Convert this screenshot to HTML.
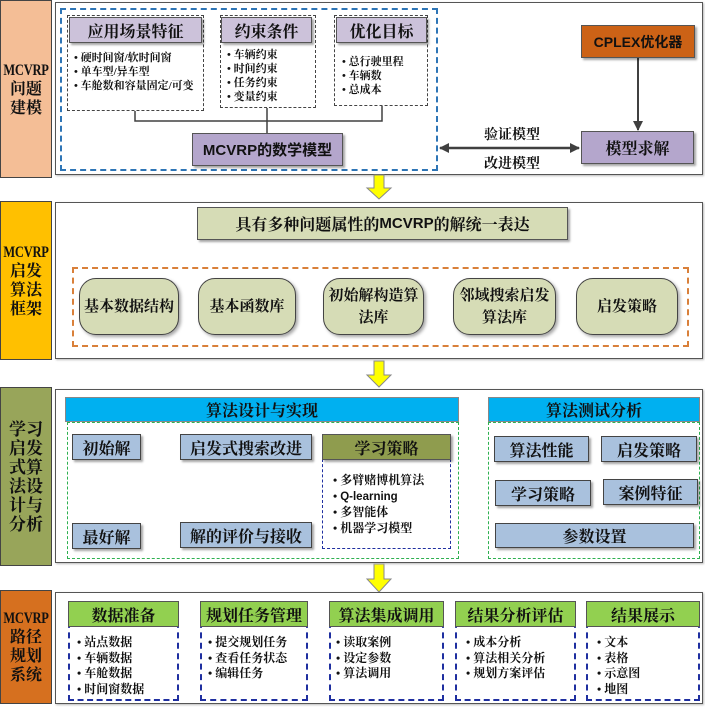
<!DOCTYPE html>
<html><head><meta charset="utf-8">
<style>
*{margin:0;padding:0;box-sizing:border-box}
body{width:705px;height:707px;background:#fff;position:relative;overflow:hidden;font-family:"Liberation Serif","Noto Serif CJK SC",serif;color:#111;font-weight:bold}
.a{position:absolute}
.c{display:flex;align-items:center;justify-content:center;text-align:center}
.left{border:1px solid #444;font-weight:bold;font-size:16px;line-height:19px;flex-direction:column}
.mc{display:inline-block;font-family:"Liberation Serif",serif;font-weight:bold;font-size:16px;transform:scaleX(0.78);letter-spacing:-0.3px}
.outer{border:1px solid #555;box-shadow:1px 1px 2px #bbb;background:#fff}
.hdr{border:1px solid #555;box-shadow:2px 2px 2px rgba(0,0,0,.35);font-size:16px}
.bl{font-size:11px;font-weight:bold;line-height:14px;white-space:nowrap}
.bl2{font-size:12px;font-weight:bold;line-height:15.5px;white-space:nowrap}
.sans{font-family:"Liberation Sans","Noto Sans CJK SC",sans-serif;font-weight:bold}
.rb{border:1.5px solid #444;border-radius:17px;background:#D6DCB6;box-shadow:2px 2px 3px rgba(0,0,0,.35);font-size:15px;line-height:22px}
.blue{background:#A9C1DD;border:1.5px solid #444;box-shadow:2px 2px 2px rgba(0,0,0,.35);font-size:16px}
.g{background:#92D050}
</style></head><body>

<!-- Section 1 -->
<div class="a c left" style="left:0;top:0;width:52px;height:178px;background:#F4BE96"><span class="mc">MCVRP</span><span>问题</span><span>建模</span></div>
<div class="a outer" style="left:55px;top:2px;width:648px;height:173px"></div>
<div class="a" style="left:60px;top:8px;width:378px;height:163px;border:2px dashed #2E75B6"></div>

<div class="a" style="left:67px;top:15px;width:137px;height:96px;border:1.5px dashed #444"></div>
<div class="a c hdr" style="left:69px;top:17px;width:133px;height:26px;background:#CCC2DA">应用场景特征</div>
<div class="a bl" style="left:74px;top:51px">• 硬时间窗/软时间窗<br>• 单车型/异车型<br>• 车舱数和容量固定/可变</div>

<div class="a" style="left:220px;top:15px;width:96px;height:93px;border:1.5px dashed #444"></div>
<div class="a c hdr" style="left:221px;top:17px;width:91px;height:26px;background:#CCC2DA">约束条件</div>
<div class="a bl" style="left:227px;top:48px">• 车辆约束<br>• 时间约束<br>• 任务约束<br>• 变量约束</div>

<div class="a" style="left:334px;top:15px;width:94px;height:91px;border:1.5px dashed #444"></div>
<div class="a c hdr" style="left:336px;top:17px;width:91px;height:26px;background:#CCC2DA">优化目标</div>
<div class="a bl" style="left:342px;top:55px">• 总行驶里程<br>• 车辆数<br>• 总成本</div>

<svg class="a" style="left:0;top:0" width="705" height="707">
<defs>
<marker id="ah2" markerWidth="10" markerHeight="10" refX="9" refY="5" orient="auto-start-reverse" markerUnits="userSpaceOnUse"><path d="M0,0 L10,5 L0,10 z" fill="#404040"/></marker>
</defs>
<g stroke="#404040" stroke-width="1.5" fill="none">
<polyline points="135,111 135,121 382,121 382,106"/>
<line x1="267" y1="108" x2="267" y2="133"/>
<line x1="638" y1="58" x2="638" y2="130" stroke-width="2" marker-end="url(#ah2)"/>
<line x1="440" y1="148" x2="579" y2="148" stroke-width="2.5" marker-start="url(#ah2)" marker-end="url(#ah2)"/>
<line x1="382" y1="240" x2="382" y2="261" stroke-width="2" marker-end="url(#ah2)"/>
<line x1="141" y1="447" x2="179" y2="447" stroke-width="2" marker-end="url(#ah2)"/>
<line x1="246" y1="460" x2="246" y2="521" stroke-width="2" marker-end="url(#ah2)"/>
<line x1="180" y1="535" x2="142" y2="535" stroke-width="2.5" marker-end="url(#ah2)"/>
<line x1="460" y1="498" x2="486" y2="498" stroke-width="3" marker-start="url(#ah2)" marker-end="url(#ah2)"/>
</g>
<g fill="#FFFF00" stroke="#888" stroke-width="1">
<polygon points="374,175 384,175 384,188 391,188 379,199 367,188 374,188"/>
<polygon points="374,361 384,361 384,375 391,375 379,387 367,375 374,375"/>
<polygon points="374,564 384,564 384,579 391,579 379,592 367,579 374,579"/>
</g>
</svg>

<div class="a c sans" style="left:192px;top:133px;width:151px;height:33px;background:#B4A6CC;border:1px solid #555;box-shadow:2px 2px 2px rgba(0,0,0,.35);font-size:15px">MCVRP的数学模型</div>
<div class="a c sans" style="left:581px;top:25px;width:114px;height:33px;background:#CC6216;border:1px solid #555;box-shadow:2px 2px 2px rgba(0,0,0,.35);font-size:14px">CPLEX优化器</div>
<div class="a c" style="left:581px;top:131px;width:113px;height:33px;background:#B4A6CC;border:1px solid #555;box-shadow:2px 2px 2px rgba(0,0,0,.35);font-size:16px">模型求解</div>
<div class="a" style="left:484px;top:124px;font-size:14px">验证模型</div>
<div class="a" style="left:484px;top:153px;font-size:14px">改进模型</div>

<!-- Section 2 -->
<div class="a c left" style="left:0;top:201px;width:52px;height:159px;background:#FFC000"><span class="mc">MCVRP</span><span>启发</span><span>算法</span><span>框架</span></div>
<div class="a outer" style="left:55px;top:202px;width:648px;height:157px"></div>
<div class="a c" style="left:197px;top:207px;width:371px;height:33px;background:#D6DCB6;border:1px solid #555;box-shadow:2px 2px 2px rgba(0,0,0,.35);font-size:16px;white-space:nowrap">具有多种问题属性的<span class="sans" style="font-size:15px">MCVRP</span>的解统一表达</div>
<div class="a" style="left:72px;top:267px;width:617px;height:80px;border:2px dashed #D9803A"></div>
<div class="a c rb" style="left:79px;top:278px;width:100px;height:57px">基本数据结构</div>
<div class="a c rb" style="left:198px;top:278px;width:98px;height:57px">基本函数库</div>
<div class="a c rb" style="left:323px;top:278px;width:101px;height:57px">初始解构造算<br>法库</div>
<div class="a c rb" style="left:453px;top:278px;width:103px;height:57px">邻域搜索启发<br>算法库</div>
<div class="a c rb" style="left:576px;top:278px;width:102px;height:57px">启发策略</div>

<!-- Section 3 -->
<div class="a c left" style="left:0;top:387px;width:52px;height:179px;background:#98A55A;font-size:17px"><span>学习</span><span>启发</span><span>式算</span><span>法设</span><span>计与</span><span>分析</span></div>
<div class="a outer" style="left:55px;top:389px;width:648px;height:174px"></div>
<div class="a" style="left:67px;top:422px;width:392px;height:137px;border:1.5px dashed #2EB050"></div>
<div class="a c" style="left:65px;top:397px;width:394px;height:25px;background:#00B0F0;border:1px solid #888;font-size:16px">算法设计与实现</div>
<div class="a c blue" style="left:72px;top:434px;width:69px;height:26px">初始解</div>
<div class="a c blue" style="left:180px;top:434px;width:132px;height:26px">启发式搜索改进</div>
<div class="a c blue" style="left:180px;top:522px;width:132px;height:26px">解的评价与接收</div>
<div class="a c blue" style="left:72px;top:523px;width:69px;height:26px">最好解</div>
<div class="a" style="left:322px;top:459px;width:129px;height:90px;border:1.5px dashed #1F2FA0"></div>
<div class="a c hdr" style="left:322px;top:434px;width:129px;height:26px;background:#8F9C4E">学习策略</div>
<div class="a bl2" style="left:333px;top:473px">• 多臂赌博机算法<br>• <span style="font-family:'Liberation Sans',sans-serif;font-weight:bold;font-size:11.5px">Q-learning</span><br>• 多智能体<br>• 机器学习模型</div>

<div class="a" style="left:488px;top:422px;width:212px;height:137px;border:1.5px dashed #2EB050"></div>
<div class="a c" style="left:488px;top:397px;width:212px;height:25px;background:#00B0F0;border:1px solid #888;font-size:16px">算法测试分析</div>
<div class="a c blue" style="left:494px;top:436px;width:95px;height:26px">算法性能</div>
<div class="a c blue" style="left:601px;top:436px;width:96px;height:26px">启发策略</div>
<div class="a c blue" style="left:495px;top:480px;width:96px;height:26px">学习策略</div>
<div class="a c blue" style="left:603px;top:479px;width:95px;height:26px">案例特征</div>
<div class="a c blue" style="left:495px;top:523px;width:199px;height:25px">参数设置</div>

<!-- Section 4 -->
<div class="a c left" style="left:0;top:590px;width:52px;height:114px;background:#D6701F"><span class="mc">MCVRP</span><span>路径</span><span>规划</span><span>系统</span></div>
<div class="a outer" style="left:55px;top:592px;width:648px;height:112px"></div>

<div class="a" style="left:68px;top:601px;width:111px;height:100px;border:2px dashed #1F2FA0"></div>
<div class="a c g" style="left:68px;top:601px;width:111px;height:26px;border:1px solid #555;font-size:16px">数据准备</div>
<div class="a bl2" style="left:77px;top:635px">• 站点数据<br>• 车辆数据<br>• 车舱数据<br>• 时间窗数据</div>

<div class="a" style="left:200px;top:601px;width:108px;height:100px;border:2px dashed #1F2FA0"></div>
<div class="a c g" style="left:200px;top:601px;width:108px;height:26px;border:1px solid #555;font-size:16px">规划任务管理</div>
<div class="a bl2" style="left:208px;top:635px">• 提交规划任务<br>• 查看任务状态<br>• 编辑任务</div>

<div class="a" style="left:329px;top:601px;width:115px;height:100px;border:2px dashed #1F2FA0"></div>
<div class="a c g" style="left:329px;top:601px;width:115px;height:26px;border:1px solid #555;font-size:16px">算法集成调用</div>
<div class="a bl2" style="left:336px;top:635px">• 读取案例<br>• 设定参数<br>• 算法调用</div>

<div class="a" style="left:455px;top:601px;width:121px;height:100px;border:2px dashed #1F2FA0"></div>
<div class="a c g" style="left:455px;top:601px;width:121px;height:26px;border:1px solid #555;font-size:16px">结果分析评估</div>
<div class="a bl2" style="left:466px;top:635px">• 成本分析<br>• 算法相关分析<br>• 规划方案评估</div>

<div class="a" style="left:586px;top:601px;width:114px;height:100px;border:2px dashed #1F2FA0"></div>
<div class="a c g" style="left:586px;top:601px;width:114px;height:26px;border:1px solid #555;font-size:16px">结果展示</div>
<div class="a bl2" style="left:597px;top:635px">• 文本<br>• 表格<br>• 示意图<br>• 地图</div>

</body></html>
